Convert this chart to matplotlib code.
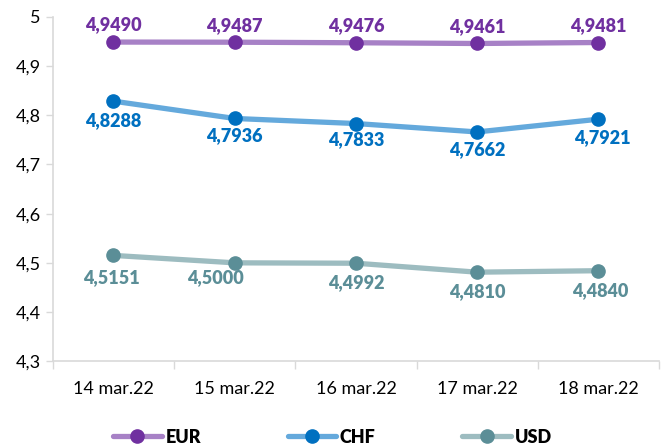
import matplotlib.pyplot as plt
import numpy as np

plt.rcParams['font.family'] = ['Lato', 'DejaVu Sans']

# Data
dates = ['14 mar.22', '15 mar.22', '16 mar.22', '17 mar.22', '18 mar.22']
eur = [4.9490, 4.9487, 4.9476, 4.9461, 4.9481]
chf = [4.8288, 4.7936, 4.7833, 4.7662, 4.7921]
usd = [4.5151, 4.5000, 4.4992, 4.4810, 4.4840]
yticks = [4.3, 4.4, 4.5, 4.6, 4.7, 4.8, 4.9, 5.0]

x = np.arange(len(dates))

fig = plt.figure(figsize=(6.61, 4.47), dpi=100)
ax = fig.add_axes([0.080, 0.192, 0.917, 0.770])

series = [
    ('EUR', eur, '#a781c6', '#7030a0', '#7030a0'),
    ('CHF', chf, '#64a9dc', '#0070c0', '#0070c0'),
    ('USD', usd, '#9dbcc0', '#5b8e97', '#5b8e97'),
]

# label offsets in pixels (dx, dy)
offsets = {
    'EUR': [(0, 17)] * 5,
    'CHF': [(0, -19), (0, -17), (0, -16), (0, -18), (4, -18)],
    'USD': [(-2, -22), (-19, -15), (0, -19), (0, -19), (2, -20)],
}

for name, vals, lc, mc, tc in series:
    ax.plot(x, vals, color=lc, lw=3.8, marker='o', markersize=9.5,
            markerfacecolor=mc, markeredgecolor=mc, label=name,
            solid_capstyle='round')
    for i, v in enumerate(vals):
        dx, dy = offsets[name][i]
        ax.annotate(f'{v:.4f}'.replace('.', ','), (x[i], v),
                    xytext=(dx, dy), textcoords='offset pixels',
                    ha='center', va='center', fontsize=13,
                    fontweight='heavy', color=tc)

ax.set_xlim(-0.5, len(dates) - 0.5)
ax.set_ylim(4.3, 5.0)
ax.set_yticks(yticks)
ax.set_yticklabels([f'{t:g}'.replace('.', ',') for t in yticks], fontsize=13)

ax.set_xticks(x)
ax.set_xticklabels(dates, fontsize=13)
ax.set_xticks(np.arange(-0.5, len(dates), 1), minor=True)
ax.tick_params(axis='x', which='major', length=0, pad=14)
ax.tick_params(axis='x', which='minor', length=6, color='#d9d9d9', width=1)
ax.tick_params(axis='y', length=5, color='#d9d9d9', width=1, pad=4)

for s in ['top', 'right']:
    ax.spines[s].set_visible(False)
for s in ['left', 'bottom']:
    ax.spines[s].set_color('#d9d9d9')
    ax.spines[s].set_linewidth(1.2)

leg = fig.legend(loc='center', bbox_to_anchor=(0.503, 0.022), ncol=3,
                 frameon=False, handlelength=2.7, handletextpad=0.2,
                 columnspacing=4.8, prop={'weight': 'heavy', 'size': 13})

fig.savefig('out.png', dpi=100)
